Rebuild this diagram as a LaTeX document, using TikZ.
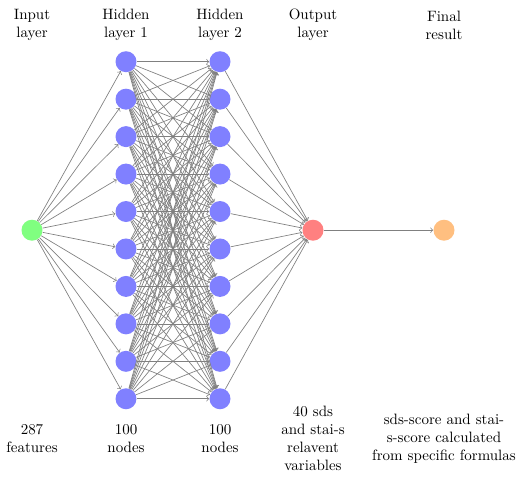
\documentclass[tikz,border=0pt]{standalone}
\begin{document}
\begin{tikzpicture}[x=0.6667pt,y=-0.6667pt,
  neuron/.style={circle,minimum size=14pt,inner sep=0pt},
  conn/.style={->,draw=gray,line width=0.45pt},
  lbl/.style={align=center,font=\normalsize}]
\useasboundingbox (0,0) rectangle (524,479);
% nodes
\node[neuron,fill=green!50] (I) at (32,230.2) {};
\foreach \i in {1,...,10}{
  \node[neuron,fill=blue!50] (A\i) at (126,{61.7+(\i-1)*37.45}) {};
  \node[neuron,fill=blue!50] (B\i) at (220,{61.7+(\i-1)*37.45}) {};
}
\node[neuron,fill=red!50] (O) at (313,230.2) {};
\node[neuron,fill=orange!50] (F) at (444,230.2) {};
% connections
\foreach \i in {1,...,10}{
  \draw[conn] (I) -- (A\i);
  \draw[conn] (B\i) -- (O);
  \foreach \j in {1,...,10}{
    \draw[conn] (A\i) -- (B\j);
  }
}
\draw[conn] (O) -- (F);
% labels top
\node[lbl] (t1) at (32,25) {Input\\layer};
\node[lbl] (t2) at (126,25) {Hidden\\layer 1};
\node[lbl] (t3) at (220,25) {Hidden\\layer 2};
\node[lbl] (t4) at (313,25) {Output\\layer};
\node[lbl] (t5) at (444,25) {Final\\result};
% labels bottom
\node[lbl] (b1) at (32,439) {287\\features};
\node[lbl] (b2) at (126,439) {100\\nodes};
\node[lbl] (b3) at (220,439) {100\\nodes};
\node[lbl] (b4) at (313,438) {40 sds\\and stai-s\\relavent\\variables};
\node[lbl] (b5) at (444,439) {sds-score and stai-\\s-score calculated\\from specific formulas};
\end{tikzpicture}
\end{document}
